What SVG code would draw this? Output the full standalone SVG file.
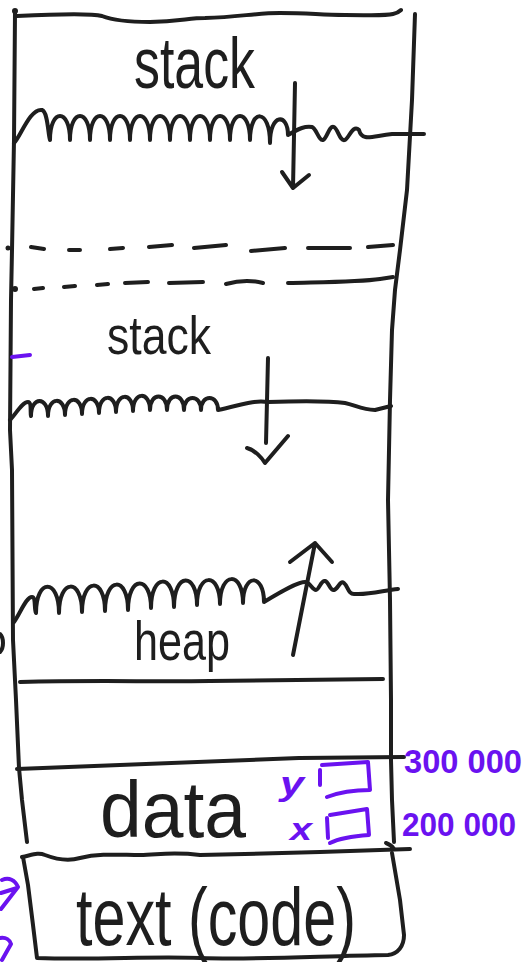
<svg xmlns="http://www.w3.org/2000/svg" width="531" height="963" viewBox="0 0 531 963">
  <style>
    .ink{fill:none;stroke:#1e1e1e;stroke-width:4;stroke-linecap:round;stroke-linejoin:round}
    .pen{fill:none;stroke:#6a12f0;stroke-width:4;stroke-linecap:round;stroke-linejoin:round}
    .lbl{font-family:"Liberation Sans","DejaVu Sans",sans-serif;fill:#1e1e1e}
    .num{font-family:"Liberation Sans","DejaVu Sans",sans-serif;fill:#6a12f0;font-weight:bold}
  </style>
  <rect width="531" height="963" fill="#ffffff"/>

  <!-- outer frame of the address space -->
  <g id="frame">
    <circle cx="15" cy="11" r="3" fill="#1e1e1e"/>
    <path class="ink" d="M17,16 C60,14 90,13 102,16 C112,20 130,22 150,22 C180,21 190,18 205,18 C240,17 255,13 280,13 C310,13 320,15 345,15 C370,15 385,16 393,14 C398,13 400,11 401,10"/>
    <path class="ink" d="M15,12 L14,140 L12,250 L11,300 L10,430 L12,470 L13,640 L16,700 L19,768 L22,800 L27,842"/>
    <path class="ink" d="M415,14 L412,100 L407,190 L400,250 L395,290 L392,330 L390,400 L388,500 L390,600 L391,700 L391,760 L392,800 L394,842"/>
    <path class="ink" d="M386,843 C389,844 392,846 394,849"/>
  </g>

  <!-- stack, first position -->
  <g id="stack-top">
    <text class="lbl" x="134" y="88" font-size="72" textLength="121" lengthAdjust="spacingAndGlyphs">stack</text>
    <path class="ink" d="M14,143 C20,138 30,108 42,110 C48,112 48,135 50,140 c0,-32 20,-32 20,0 c0,-32 20,-32 20,0 c0,-32 20,-32 20,0 c0,-32 20,-32 20,0 c0,-32 20,-32 20,0 c0,-32 20,-32 20,0 c0,-32 20,-32 20,0 c0,-32 20,-32 20,0 c0,-32 20,-32 20,0 c0,-32 20,-32 20,0 c0,-32 20,-32 20,3 c0,-30 18,-30 18,-8 C300,128 305,126 312,127 c4,1 7,14 11,13 c4,-1 6,-15 11,-13 c4,2 6,15 11,13 c4,-2 8,-16 14,-10 C362,142 372,136 392,134 L424,134"/>
  </g>

  <!-- dashed boundaries of the earlier stack extent -->
  <g id="stack-extent">
    <circle cx="8" cy="248" r="2.5" fill="#1e1e1e"/>
    <path class="ink" d="M31,247 L44,249 M69,250 L80,250 M110,249 L123,248 M149,247 L172,245 M194,248 L226,245 M251,251 L285,248 M308,248 L350,248 M368,247 L393,245"/>
    <circle cx="15" cy="289" r="3" fill="#1e1e1e"/>
    <path class="ink" d="M34,289 L43,288 M64,287 L75,286 M97,285 L108,284 M125,283 L148,282 M169,283 L203,282 M226,284 C240,280 252,280 263,283 M288,283 C330,282 360,282 380,279 L393,277"/>
  </g>

  <!-- stack, grown position -->
  <g id="stack-grown">
    <text class="lbl" x="107" y="354" font-size="54" textLength="104" lengthAdjust="spacingAndGlyphs">stack</text>
    <path class="ink" d="M10,420 C16,414 22,402 28,402 C32,402 30,414 31,416 c0,-20 17,-20 17,0 c0,-20 17,-20 17,-1 c0,-20 17,-20 17,-1 c0,-20 17,-20 17,-1 c0,-20 17,-20 17,-1 c0,-20 17,-20 17,-1 c0,-20 17,-20 17,-1 c0,-18 17,-18 17,0 c0,-18 17,-18 17,0 c0,-16 17,-16 17,0 c0,-16 17,-16 17,0 C242,405 252,400 268,402 C300,401 330,401 345,403 C355,405 362,410 375,410 L391,406"/>
  </g>

  <!-- heap -->
  <g id="heap">
    <path class="ink" d="M14,622 C20,614 26,597 32,597 C36,597 34,610 36,613 c0,-35 23,-35 23,0 c0,-35 23,-35 23,-1 c0,-35 23,-35 23,-1 c0,-35 23,-35 23,-1 c0,-35 23,-35 23,-2 c0,-35 23,-35 23,-1 c0,-35 23,-35 23,-2 c0,-33 23,-33 23,-1 c0,-33 23,-33 23,-1 c0,-30 21,-30 21,-1 C292,585 300,582 305,582 C310,582 312,590 316,590 c3,0 5,-10 9,-9 c4,1 5,10 9,9 c4,-1 6,-10 10,-7 c4,3 4,12 11,11 C370,595 385,590 398,589"/>
    <text class="lbl" x="134" y="660" font-size="56" textLength="96" lengthAdjust="spacingAndGlyphs">heap</text>
    <path class="ink" d="M20,682 C100,680 150,682 210,681 C280,680 340,680 383,679"/>
  </g>

  <!-- data segment with two globals -->
  <g id="data">
    <path class="ink" d="M17,769 C100,766 200,761 300,758 L404,757"/>
    <text class="lbl" x="100" y="837" font-size="80" textLength="146" lengthAdjust="spacingAndGlyphs">data</text>
    <text class="num" x="280" y="795" font-size="34" font-style="italic" textLength="24" lengthAdjust="spacingAndGlyphs">y</text>
    <path class="pen" d="M320,770 L320,785 M322,765 L368,762 L370,790 C355,790 340,792 327,797"/>
    <text class="num" x="290" y="840" font-size="32" font-style="italic" textLength="22" lengthAdjust="spacingAndGlyphs">x</text>
    <path class="pen" d="M327,818 L328,838 M330,815 L367,809 L369,835 C355,836 340,838 330,843"/>
    <text class="num" x="404" y="773" font-size="34" textLength="118" lengthAdjust="spacingAndGlyphs">300 000</text>
    <text class="num" x="402" y="836" font-size="34" textLength="114" lengthAdjust="spacingAndGlyphs">200 000</text>
  </g>

  <!-- text (code) segment -->
  <g id="text-segment">
    <path class="ink" d="M22,857 C32,855 38,852 45,855 C58,860 70,861 80,858 C100,853 120,855 140,855 C165,854 175,852 200,855 C250,854 280,853 320,852 L410,849"/>
    <path class="ink" d="M23,857 L28,885 L33,925 L37,958 C100,960 150,956 200,958 C260,960 320,956 388,955 C398,954 404,946 404,935 L400,900 L392,853"/>
    <text class="lbl" x="76" y="945" font-size="82" textLength="280" lengthAdjust="spacingAndGlyphs">text (code)</text>
  </g>

  <!-- stray marks at the left edge -->
  <g id="margin-marks">
    <path class="pen" d="M12,357 L30,355"/>
    <path class="pen" d="M2,880 C9,877 15,880 18,887 L1,909 M1,893 L17,888" stroke-width="2.5"/>
    <path class="pen" d="M0,938 C6,937 10,940 11,944 L2,960" stroke-width="2.5"/>
    <path class="ink" d="M0,634 C4,638 4,648 0,652"/>
  </g>

  <!-- growth direction arrows -->
  <g id="connectors">
    <path class="ink" d="M295,83 L293,188 M282,172 L293,188 L309,175"/>
    <path class="ink" d="M268,358 L266,443 M247,448 C255,450 262,458 265,463 L288,436"/>
    <path class="ink" d="M293,655 L315,543 M290,562 L315,543 L332,562"/>
  </g>
</svg>
